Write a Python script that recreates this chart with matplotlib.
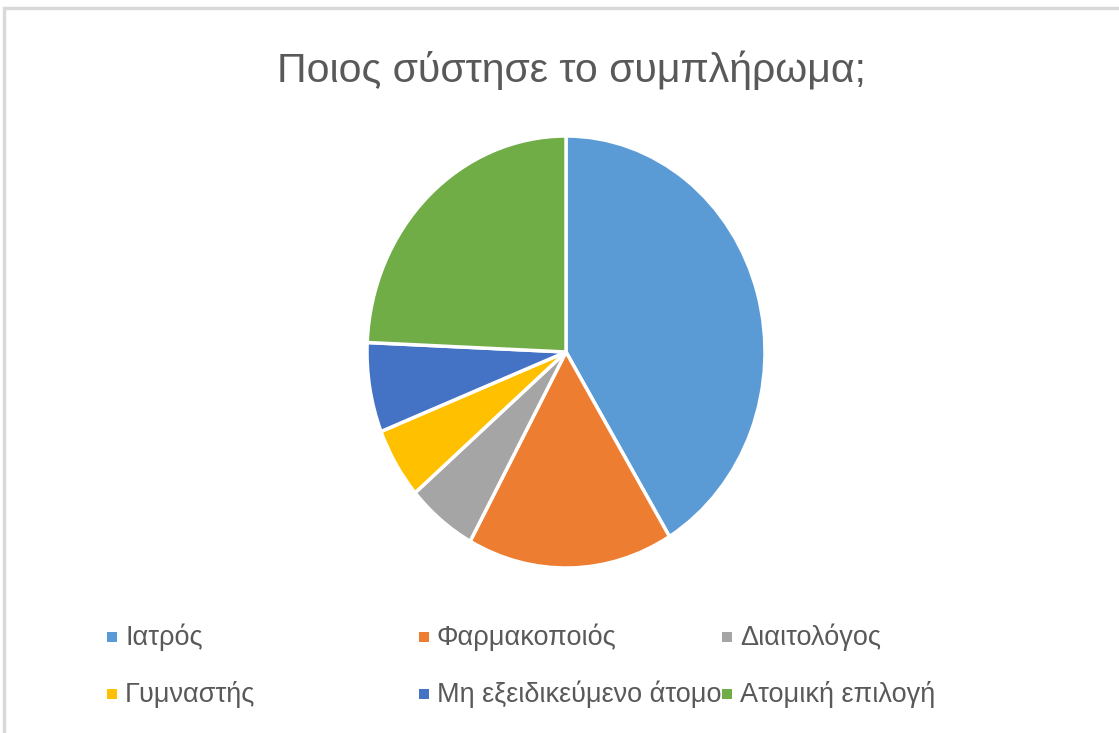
import matplotlib
matplotlib.use("Agg")
import matplotlib.pyplot as plt
from matplotlib.patches import Rectangle

labels = ["Ιατρός", "Φαρμακοποιός", "Διαιτολόγος",
          "Γυμναστής", "Μη εξειδικεύμενο άτομο", "Ατομική επιλογή"]
shares = [41.3, 16.7, 5.7, 5.3, 6.7, 24.3]
colors = ["#5B9BD5", "#ED7D31", "#A5A5A5", "#FFC000", "#4472C4", "#70AD47"]
title = "Ποιος σύστησε το συμπλήρωμα;"

FONT = ["Liberation Sans", "DejaVu Sans"]
W, H = 1119, 733
fig = plt.figure(figsize=(W / 100, H / 100), dpi=100)
fig.patch.set_facecolor("white")

def fx(px):
    return px / W

def fy(py):
    return 1 - py / H

# chart frame (only top/left edges fall inside the canvas)
fig.patches.append(Rectangle((fx(4), fy(H + 20)), fx(W + 40), fy(8) - fy(H + 20),
                             transform=fig.transFigure, fill=False,
                             edgecolor="#D9D9D9", linewidth=2.5))

# pie area (slightly stretched vertically)
pad = 1.03
cx, cy, rx, ry = 566, 352, 199, 216
ax = fig.add_axes([fx(cx - rx * pad), fy(cy + ry * pad), fx(2 * rx * pad), 2 * ry * pad / H])
ax.pie(shares, colors=colors, startangle=90, counterclock=False, radius=1,
       wedgeprops=dict(edgecolor="white", linewidth=2.5))
ax.set_aspect("auto")
ax.set_xlim(-pad, pad)
ax.set_ylim(-pad, pad)
ax.axis("off")

fig.text(fx(571), fy(70), title, ha="center", va="center", fontsize=29.5,
         color="#595959", family=FONT)

# legend: three columns, two rows
col_x = [112, 424, 727]
row_y = [637, 694]
for i, (lab, c) in enumerate(zip(labels, colors)):
    x = col_x[i % 3]
    y = row_y[i // 3]
    fig.patches.append(Rectangle((fx(x - 5), fy(y + 5)), fx(10), 10 / H,
                                 transform=fig.transFigure, facecolor=c, edgecolor="none"))
    fig.text(fx(x + 13), fy(y), lab, ha="left", va="center", fontsize=19.5,
             color="#595959", family=FONT)

fig.savefig("out.png", dpi=100, facecolor="white")
